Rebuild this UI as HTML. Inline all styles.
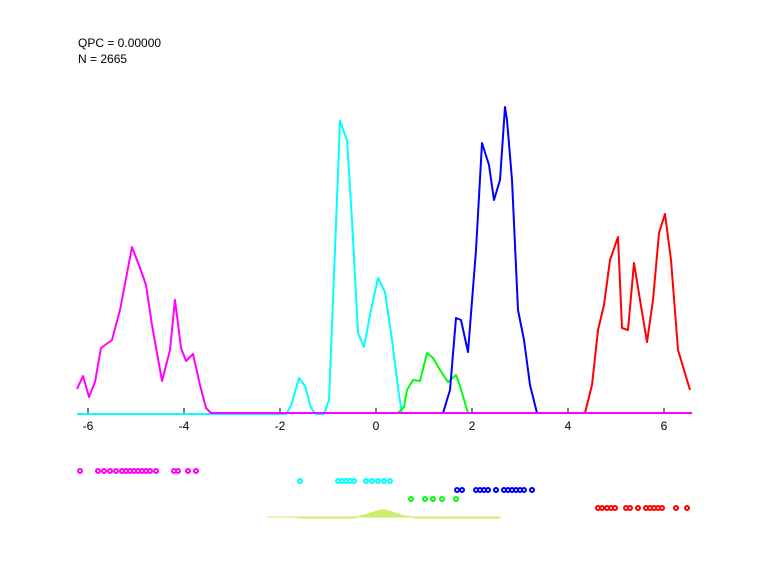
<!DOCTYPE html>
<html><head><meta charset="utf-8"><style>
html,body{margin:0;padding:0;background:#fff;}
svg{display:block;}
text{font-family:"Liberation Sans",Arial,sans-serif;font-size:12px;fill:#000;}
</style></head><body>
<svg width="768" height="576" viewBox="0 0 768 576" xmlns="http://www.w3.org/2000/svg">
<text x="78" y="47">QPC = 0.00000</text>
<text x="78" y="63">N = 2665</text>
<g stroke="#000" stroke-width="1">
<line x1="88" y1="408" x2="88" y2="414"/><line x1="184" y1="408" x2="184" y2="414"/>
<line x1="280" y1="408" x2="280" y2="414"/><line x1="376" y1="408" x2="376" y2="414"/>
<line x1="472" y1="408" x2="472" y2="414"/><line x1="568" y1="408" x2="568" y2="414"/>
<line x1="664" y1="408" x2="664" y2="414"/>
</g>
<g text-anchor="middle">
<text x="88" y="430">-6</text><text x="184" y="430">-4</text><text x="280" y="430">-2</text>
<text x="376" y="430">0</text><text x="472" y="430">2</text><text x="568" y="430">4</text><text x="664" y="430">6</text>
</g>
<g fill="none" stroke-width="2" stroke-linejoin="round">
<polyline stroke="#00ffff" points="77,414 286,414 291,406 299,378 305,386 311,408 316,414 324,414 329,400 335,250 340,121 347,140 352,220 358,333 364,347 371,310 378,278 385,292 392,340 399,395 402,413 430,413"/>
<polyline stroke="#00ff00" points="370,413 398,413 404,407 407,390 413,380 420,381 427,353 433,358 440,370 448,382 456,375 460,386 468,413 500,413"/>
<polyline stroke="#0000ff" points="430,413 443,413 450,390 456,318 461,320 468,352 476,250 482,143 489,165 494,200 500,180 505,107 507,120 512,180 518,310 524,340 530,385 537,413 570,413"/>
<polyline stroke="#ff0000" points="565,413 585,413 592,385 598,330 604,305 610,260 618,237 622,328 628,330 634,263 640,300 647,342 653,300 659,233 665,214 671,260 678,350 690,390"/>
<polyline stroke="#ff00ff" points="77,389 83,376 89,397 95,382 101,348 112,340 120,310 132,247 140,268 146,285 152,325 162,381 170,350 175,300 181,348 186,361 193,354 200,385 206,408 211,413 692,413"/>
</g>
<path d="M267,517 L295,517 L300,518 L355,518 L360,516 L368,514 L374,512 L380,510 L386,510 L392,512 L398,514 L405,516 L412,517 L415,518 L500,518 L500,517 Z" fill="#c8f06a" stroke="#c8f06a" stroke-width="1"/>
<g stroke-width="2" fill="none">
<g stroke="#ff00ff">
<circle cx="80" cy="471" r="2"/><circle cx="98" cy="471" r="2"/><circle cx="104" cy="471" r="2"/><circle cx="110" cy="471" r="2"/><circle cx="116" cy="471" r="2"/><circle cx="122" cy="471" r="2"/><circle cx="126" cy="471" r="2"/><circle cx="130" cy="471" r="2"/><circle cx="134" cy="471" r="2"/><circle cx="138" cy="471" r="2"/><circle cx="142" cy="471" r="2"/><circle cx="146" cy="471" r="2"/><circle cx="150" cy="471" r="2"/><circle cx="156" cy="471" r="2"/><circle cx="174" cy="471" r="2"/><circle cx="178" cy="471" r="2"/><circle cx="188" cy="471" r="2"/><circle cx="196" cy="471" r="2"/>
</g>
<g stroke="#00ffff">
<circle cx="300" cy="481" r="2"/><circle cx="338" cy="481" r="2"/><circle cx="342" cy="481" r="2"/><circle cx="346" cy="481" r="2"/><circle cx="350" cy="481" r="2"/><circle cx="354" cy="481" r="2"/><circle cx="366" cy="481" r="2"/><circle cx="372" cy="481" r="2"/><circle cx="378" cy="481" r="2"/><circle cx="384" cy="481" r="2"/><circle cx="390" cy="481" r="2"/>
</g>
<g stroke="#0000ff">
<circle cx="457" cy="490" r="2"/><circle cx="462" cy="490" r="2"/><circle cx="476" cy="490" r="2"/><circle cx="480" cy="490" r="2"/><circle cx="484" cy="490" r="2"/><circle cx="488" cy="490" r="2"/><circle cx="496" cy="490" r="2"/><circle cx="504" cy="490" r="2"/><circle cx="508" cy="490" r="2"/><circle cx="512" cy="490" r="2"/><circle cx="516" cy="490" r="2"/><circle cx="520" cy="490" r="2"/><circle cx="524" cy="490" r="2"/><circle cx="532" cy="490" r="2"/>
</g>
<g stroke="#00ff00">
<circle cx="411" cy="499" r="2"/><circle cx="425" cy="499" r="2"/><circle cx="433" cy="499" r="2"/><circle cx="442" cy="499" r="2"/><circle cx="456" cy="499" r="2"/>
</g>
<g stroke="#ff0000">
<circle cx="598" cy="508" r="2"/><circle cx="602" cy="508" r="2"/><circle cx="607" cy="508" r="2"/><circle cx="611" cy="508" r="2"/><circle cx="615" cy="508" r="2"/><circle cx="626" cy="508" r="2"/><circle cx="630" cy="508" r="2"/><circle cx="638" cy="508" r="2"/><circle cx="646" cy="508" r="2"/><circle cx="650" cy="508" r="2"/><circle cx="654" cy="508" r="2"/><circle cx="658" cy="508" r="2"/><circle cx="662" cy="508" r="2"/><circle cx="676" cy="508" r="2"/><circle cx="687" cy="508" r="2"/>
</g>
</g>
</svg>
</body></html>
